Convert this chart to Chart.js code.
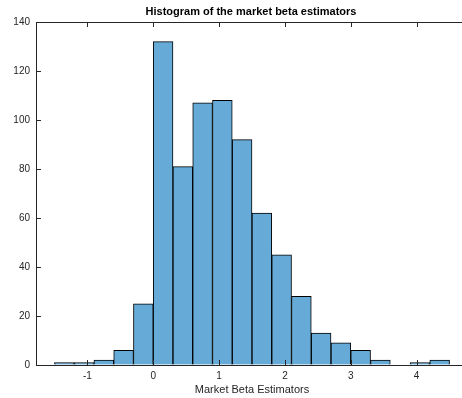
<!DOCTYPE html>
<html>
<head>
<meta charset="utf-8">
<script src="https://cdn.jsdelivr.net/npm/chart.js@4"></script>
<style>
  html, body { margin: 0; padding: 0; background: #fff; overflow: hidden; width: 462px; height: 398px; }
  canvas { display: block; }
</style>
</head>
<body>
<canvas id="histChart" width="468" height="398"></canvas>
<script>
// bin edges and counts
const binEdges = [-1.5, -1.2, -0.9, -0.6, -0.3, 0, 0.3, 0.6, 0.9, 1.2, 1.5, 1.8, 2.1, 2.4, 2.7, 3.0, 3.3, 3.6, 3.9, 4.2, 4.5];
const counts = [1, 1, 2, 6, 25, 132, 81, 107, 108, 92, 62, 45, 28, 13, 9, 6, 2, 0, 1, 2];
const xTicks = [-1, 0, 1, 2, 3, 4];
const yTicks = [0, 20, 40, 60, 80, 100, 120, 140];

const titleText = "Histogram of the market beta estimators";
const xLabel = "Market Beta Estimators";

const axisColor = "#262626";
const fontFamily = "'Liberation Sans', Arial, Helvetica, sans-serif";

const barData = counts.map((c, i) => ({
  x: (binEdges[i] + binEdges[i + 1]) / 2,
  y: c,
}));

// MATLAB style: ticks pointing inward, top box line, title and xlabel
const matlabAxes = {
  id: "matlabAxes",
  afterDatasetsDraw(chart) {
    const { ctx, chartArea } = chart;
    const xs = chart.scales.x;
    const ys = chart.scales.y;
    ctx.save();
    ctx.strokeStyle = axisColor;
    ctx.lineWidth = 1;
    ctx.beginPath();
    // top box line
    ctx.moveTo(chartArea.left, chartArea.top + 0.5);
    ctx.lineTo(chartArea.right, chartArea.top + 0.5);
    xTicks.forEach((v) => {
      const px = Math.round(xs.getPixelForValue(v)) + 0.5;
      ctx.moveTo(px, chartArea.bottom);
      ctx.lineTo(px, chartArea.bottom - 5);
      ctx.moveTo(px, chartArea.top);
      ctx.lineTo(px, chartArea.top + 5);
    });
    yTicks.forEach((v) => {
      const py = Math.round(ys.getPixelForValue(v)) + 0.5;
      ctx.moveTo(chartArea.left, py);
      ctx.lineTo(chartArea.left + 5, py);
    });
    ctx.stroke();

    ctx.fillStyle = "#000";
    ctx.textAlign = "center";
    ctx.textBaseline = "middle";
    ctx.font = "bold 11px " + fontFamily;
    ctx.fillText(titleText, 251, 12);

    ctx.fillStyle = axisColor;
    ctx.font = "11px " + fontFamily;
    ctx.fillText(xLabel, 252, 390);
    ctx.restore();
  },
};

new Chart(document.getElementById("histChart"), {
  type: "bar",
  data: {
    datasets: [
      {
        data: barData,
        backgroundColor: "rgb(102,170,215)",
        borderColor: "#000",
        borderWidth: 1,
        barPercentage: 1,
        categoryPercentage: 1,
      },
    ],
  },
  options: {
    responsive: false,
    animation: false,
    layout: { padding: { top: 22, left: 0, right: 0, bottom: 0 } },
    plugins: {
      legend: { display: false },
      title: { display: false },
      tooltip: { enabled: false },
    },
    scales: {
      x: {
        type: "linear",
        offset: false,
        min: -1.78,
        max: 4.78,
        afterFit: (scale) => { scale.height = 33; },
        afterBuildTicks: (scale) => { scale.ticks = xTicks.map((v) => ({ value: v })); },
        grid: { drawOnChartArea: false, drawTicks: false, offset: false },
        border: { color: axisColor, width: 1 },
        ticks: {
          color: axisColor,
          padding: 5,
          maxRotation: 0,
          font: { size: 10, family: fontFamily },
        },
      },
      y: {
        min: 0,
        max: 140,
        afterFit: (scale) => { scale.width = 36; },
        afterBuildTicks: (scale) => { scale.ticks = yTicks.map((v) => ({ value: v })); },
        grid: { drawOnChartArea: false, drawTicks: false },
        border: { color: axisColor, width: 1 },
        ticks: {
          color: axisColor,
          padding: 6,
          font: { size: 10, family: fontFamily },
        },
      },
    },
  },
  plugins: [matlabAxes],
});
</script>
</body>
</html>
